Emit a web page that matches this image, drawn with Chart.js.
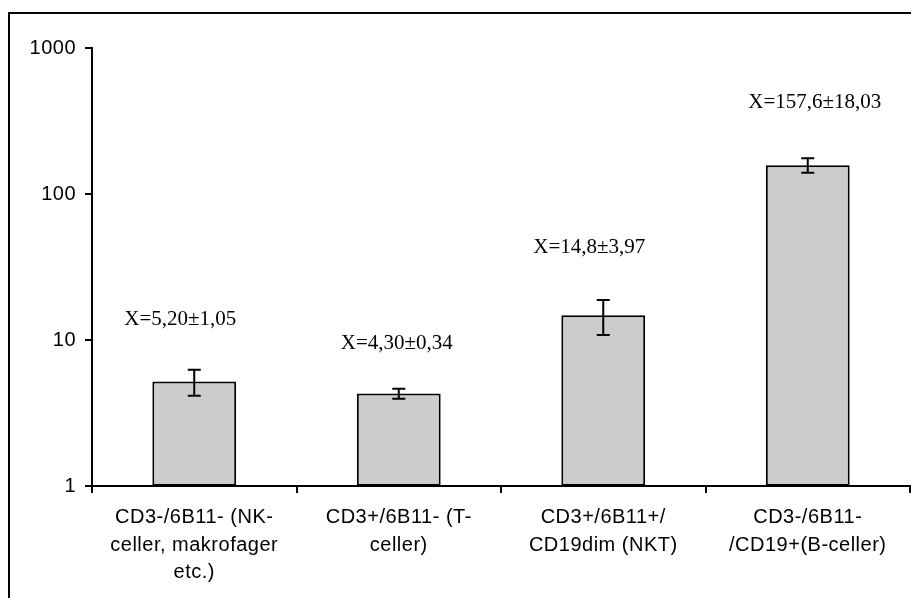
<!DOCTYPE html>
<html>
<head>
<meta charset="utf-8">
<script src="https://cdn.jsdelivr.net/npm/chart.js@4/dist/chart.umd.min.js"></script>
<style>
  body { margin: 0; background: #fff; }
  #wrap { width: 911px; height: 598px; }
</style>
</head>
<body>
<div id="wrap"><canvas id="cellChart" width="911" height="598"></canvas></div>
<script>
// data
var categories = [
    ["CD3-/6B11- (NK-", "celler, makrofager", "etc.)"],
    ["CD3+/6B11- (T-", "celler)"],
    ["CD3+/6B11+/", "CD19dim (NKT)"],
    ["CD3-/6B11-", "/CD19+(B-celler)"]
];
var means = [5.20, 4.30, 14.8, 157.6];
var sds = [1.05, 0.34, 3.97, 18.03];
var meanLabels = ["X=5,20\u00b11,05", "X=4,30\u00b10,34", "X=14,8\u00b13,97", "X=157,6\u00b118,03"];
var yTicks = [1, 10, 100, 1000];

// outer frame (runs off the right and bottom edge in the original)
var framePlugin = {
    id: 'frame',
    beforeDraw: function (chart) {
        var c = chart.ctx;
        c.save();
        c.strokeStyle = '#000';
        c.lineWidth = 2;
        c.strokeRect(9, 13, 1000, 1000);
        c.restore();
        // axis text in the original is a bit spaced out
        if ('letterSpacing' in c) c.letterSpacing = '0.5px';
    }
};

// error bars + mean text above each bar
var errorPlugin = {
    id: 'errorBars',
    afterDatasetsDraw: function (chart, args, opts) {
        var c = chart.ctx;
        var y = chart.scales.y;
        var bars = chart.getDatasetMeta(0).data;
        c.save();
        if ('letterSpacing' in c) c.letterSpacing = '0px';
        c.strokeStyle = '#000';
        c.lineWidth = 2;
        bars.forEach(function (bar, i) {
            var top = y.getPixelForValue(means[i] + sds[i]);
            var bot = y.getPixelForValue(means[i] - sds[i]);
            var x = bar.x;
            c.beginPath();
            c.moveTo(x, top); c.lineTo(x, bot);
            c.moveTo(x - 6.5, top); c.lineTo(x + 6.5, top);
            c.moveTo(x - 6.5, bot); c.lineTo(x + 6.5, bot);
            c.stroke();
            c.fillStyle = '#000';
            c.font = '21px "Liberation Serif", "Times New Roman", serif';
            c.textAlign = 'center';
            c.textBaseline = 'middle';
            c.fillText(meanLabels[i], x + opts.dx[i], top + opts.dy[i]);
        });
        c.restore();
    }
};

var ctx = document.getElementById('cellChart').getContext('2d');
var myChart = new Chart(ctx, {
    type: 'bar',
    data: {
        labels: categories,
        datasets: [{
            data: means,
            backgroundColor: '#cccccc',
            borderColor: '#000',
            borderWidth: 2,
            borderSkipped: false,
            categoryPercentage: 1,
            barPercentage: 0.41
        }]
    },
    options: {
        responsive: false,
        animation: false,
        layout: { padding: { left: 0, top: 48, right: 1, bottom: 0 } },
        plugins: {
            legend: { display: false },
            tooltip: { enabled: false },
            errorBars: { dx: [-14, -2, -14, 7], dy: [-50, -45, -53, -56] }
        },
        scales: {
            x: {
                grid: { drawOnChartArea: false, color: '#000', lineWidth: 2, tickLength: 7, offset: true },
                border: { color: '#000', width: 2 },
                ticks: {
                    color: '#000',
                    padding: 11,
                    maxRotation: 0,
                    autoSkip: false,
                    font: { family: '"Liberation Sans", Arial, sans-serif', size: 20, lineHeight: 1.37 }
                },
                afterFit: function (scale) { scale.height = 112; }
            },
            y: {
                type: 'logarithmic',
                min: 1,
                max: 1000,
                grid: { drawOnChartArea: false, color: '#000', lineWidth: 2, tickLength: 7 },
                border: { color: '#000', width: 2 },
                ticks: {
                    color: '#000',
                    padding: 9,
                    font: { family: '"Liberation Sans", Arial, sans-serif', size: 20 },
                    callback: function (v) { return String(v); }
                },
                afterBuildTicks: function (scale) {
                    scale.ticks = yTicks.map(function (v) { return { value: v }; });
                },
                afterFit: function (scale) { scale.width = 92; }
            }
        }
    },
    plugins: [framePlugin, errorPlugin]
});
</script>
</body>
</html>
